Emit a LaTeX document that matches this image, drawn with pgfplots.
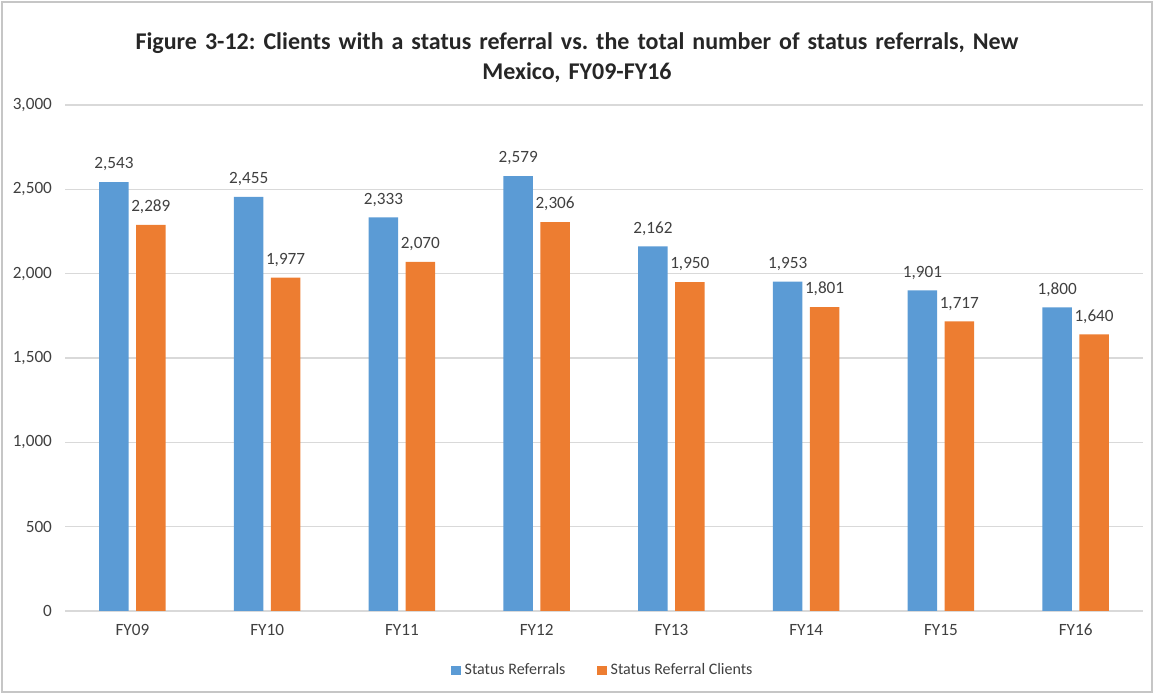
\documentclass[border=0pt]{standalone}
\usepackage{pgfplots}
\pgfplotsset{compat=1.18}
\usepackage{fontspec}
\setmainfont{Carlito}
\frenchspacing
\definecolor{sblue}{HTML}{5B9BD5}
\definecolor{sorange}{HTML}{ED7D31}
\definecolor{txt}{HTML}{404040}
\begin{document}
\begin{tikzpicture}
\useasboundingbox (0,0) rectangle (577pt,347pt);
\draw[gray!45, line width=0.8pt] (1pt,1pt) rectangle (576pt,346pt);
\begin{axis}[
  at={(32.5pt,41.5pt)}, anchor=south west,
  scale only axis, width=539pt, height=253pt,
  xmin=-0.5, xmax=7.5, ymin=0, ymax=3000,
  ytick={0,500,1000,1500,2000,2500,3000},
  xtick={0,...,7},
  xticklabels={FY09,FY10,FY11,FY12,FY13,FY14,FY15,FY16},
  ymajorgrids, grid style={gray!30, line width=0.6pt},
  axis line style={draw=none},
  major tick length=0pt,
  tick label style={font=\fontsize{8.6}{10}\selectfont, text=txt},
  xticklabel style={yshift=-3pt},
  yticklabel style={xshift=-3pt},
  /pgf/number format/assume math mode=true,
  /pgf/number format/1000 sep={,},
  ybar, bar width=0.22,
  nodes near coords,
  every node near coord/.append style={font=\fontsize{8.6}{10}\selectfont, text=txt, yshift=2pt},
  legend style={at={(0.5,-0.087)}, anchor=north, draw=none, legend columns=2,
    font=\fontsize{8}{10}\selectfont, text=txt,
    /tikz/every even column/.append style={column sep=14pt}},
  legend image code/.code={\fill[#1] (0pt,-2.3pt) rectangle (4.6pt,2.3pt);},
]
\addplot[fill=sblue, draw=none, bar shift=-0.137] coordinates {
(0,2543) (1,2455) (2,2333) (3,2579) (4,2162) (5,1953) (6,1901) (7,1800)};
\addplot[fill=sorange, draw=none, bar shift=0.137] coordinates {
(0,2289) (1,1977) (2,2070) (3,2306) (4,1950) (5,1801) (6,1717) (7,1640)};
\legend{Status Referrals, Status Referral Clients}
\end{axis}
\node[align=center, text width=540pt, font=\fontsize{12}{15}\selectfont\bfseries, text=black!85] at (288.5pt,318pt)
{Figure 3-12: Clients with a status referral vs. the total number of status referrals, New\\Mexico, FY09-FY16};
\end{tikzpicture}
\end{document}
